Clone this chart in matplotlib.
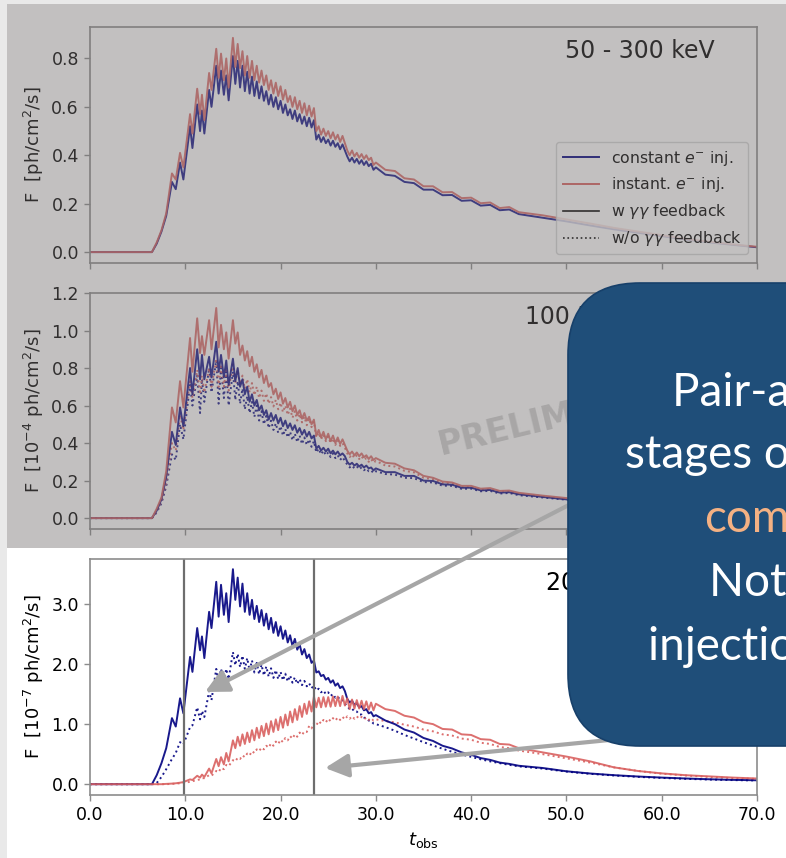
import numpy as np
import matplotlib.pyplot as plt
from matplotlib.patches import Rectangle, FancyBboxPatch
from matplotlib.lines import Line2D
from matplotlib.ticker import FormatStrFormatter, MultipleLocator

W, H = 786, 858
BLUE = 'navy'
RED = '#d9605f'

# observer time grid: rise with the first big teeth, sawtooth peak, decay, tail
t_rise = [0.0, 6.5, 7.0, 7.5, 8.0, 8.6, 9.0, 9.45, 9.8, 10.5, 10.75, 11.25,
          11.55, 11.75, 12.0, 12.5, 12.75, 13.25, 13.5, 13.75, 14.05, 14.3, 14.55, 15.0]
t_obs = np.concatenate([t_rise, np.arange(15.25, 30.01, 0.25),
                        np.arange(31, 46), np.arange(47.5, 70.01, 2.5)])

# 50 - 300 keV  [ph/cm^2/s]
top_constant = ([0, 0, 0.035, 0.085, 0.15, 0.29, 0.26, 0.37, 0.30, 0.52, 0.43, 0.61,
                 0.50, 0.585, 0.49, 0.67, 0.60, 0.77, 0.655, 0.75, 0.65, 0.73, 0.627, 0.81]
                + [0.695, 0.79, 0.68, 0.77, 0.665, 0.745, 0.655, 0.725, 0.645, 0.705, 0.635, 0.685, 0.625, 0.665, 0.61]
                + [0.65, 0.60, 0.64, 0.59, 0.625, 0.575, 0.61, 0.565, 0.59, 0.55, 0.585, 0.54, 0.57, 0.53, 0.56]
                + [0.52, 0.555, 0.515, 0.545, 0.465, 0.485, 0.455, 0.475, 0.45, 0.465, 0.44, 0.46, 0.435, 0.45, 0.425]
                + [0.445, 0.42, 0.395, 0.375, 0.39, 0.37, 0.385, 0.365, 0.38, 0.36, 0.375, 0.355, 0.365, 0.34, 0.35]
                + [0.32, 0.315, 0.29, 0.285, 0.258, 0.258, 0.235, 0.236, 0.212, 0.214, 0.192, 0.195, 0.173, 0.176, 0.157]
                + [0.142, 0.127, 0.11, 0.094, 0.08, 0.066, 0.052, 0.04, 0.03, 0.02])
top_instant = ([0, 0, 0.04, 0.09, 0.16, 0.325, 0.30, 0.41, 0.35, 0.57, 0.49, 0.675,
                0.57, 0.65, 0.545, 0.74, 0.67, 0.84, 0.72, 0.82, 0.71, 0.80, 0.68, 0.885]
               + [0.765, 0.86, 0.76, 0.83, 0.73, 0.81, 0.72, 0.79, 0.71, 0.77, 0.70, 0.75, 0.69, 0.73, 0.67]
               + [0.71, 0.655, 0.70, 0.645, 0.685, 0.63, 0.67, 0.62, 0.645, 0.60, 0.64, 0.59, 0.625, 0.575, 0.615]
               + [0.565, 0.605, 0.56, 0.595, 0.50, 0.52, 0.485, 0.51, 0.48, 0.50, 0.47, 0.495, 0.465, 0.485, 0.455]
               + [0.48, 0.45, 0.42, 0.40, 0.42, 0.395, 0.41, 0.39, 0.405, 0.385, 0.40, 0.38, 0.39, 0.36, 0.37]
               + [0.34, 0.335, 0.305, 0.30, 0.272, 0.272, 0.247, 0.248, 0.223, 0.225, 0.202, 0.205, 0.182, 0.186, 0.165]
               + [0.152, 0.135, 0.118, 0.10, 0.085, 0.07, 0.055, 0.043, 0.032, 0.022])

# 100 MeV band  [1e-4 ph/cm^2/s]
mid_constant = ([0, 0, 0.04, 0.10, 0.22, 0.46, 0.39, 0.59, 0.49, 0.80, 0.66, 0.90,
                 0.74, 0.87, 0.74, 0.86, 0.75, 0.94, 0.78, 0.87, 0.75, 0.84, 0.71, 0.85]
                + [0.73, 0.80, 0.70, 0.74, 0.66, 0.70, 0.62, 0.66, 0.60, 0.63, 0.575, 0.60, 0.55, 0.575, 0.525]
                + [0.56, 0.52, 0.55, 0.505, 0.535, 0.49, 0.52, 0.48, 0.505, 0.47, 0.495, 0.455, 0.48, 0.445, 0.47]
                + [0.435, 0.46, 0.425, 0.44, 0.37, 0.385, 0.36, 0.375, 0.355, 0.37, 0.345, 0.36, 0.34, 0.355, 0.335]
                + [0.345, 0.33, 0.30, 0.285, 0.295, 0.28, 0.29, 0.275, 0.285, 0.27, 0.28, 0.265, 0.27, 0.255, 0.265]
                + [0.245, 0.245, 0.225, 0.225, 0.20, 0.198, 0.18, 0.178, 0.162, 0.162, 0.148, 0.15, 0.136, 0.138, 0.127]
                + [0.113, 0.10, 0.089, 0.078, 0.068, 0.059, 0.051, 0.044, 0.037, 0.031])
mid_instant = ([0, 0, 0.05, 0.11, 0.25, 0.59, 0.51, 0.73, 0.59, 0.96, 0.78, 1.065,
                0.88, 0.97, 0.87, 1.055, 0.90, 1.12, 0.91, 1.03, 0.90, 0.99, 0.85, 1.055]
               + [0.93, 0.99, 0.87, 0.92, 0.84, 0.89, 0.81, 0.86, 0.78, 0.82, 0.75, 0.79, 0.72, 0.76, 0.70]
               + [0.72, 0.66, 0.69, 0.635, 0.67, 0.61, 0.64, 0.59, 0.62, 0.57, 0.60, 0.55, 0.575, 0.53, 0.56]
               + [0.52, 0.54, 0.50, 0.525, 0.44, 0.47, 0.43, 0.46, 0.42, 0.45, 0.41, 0.44, 0.40, 0.43, 0.395]
               + [0.42, 0.39, 0.36, 0.34, 0.355, 0.335, 0.35, 0.33, 0.345, 0.325, 0.335, 0.315, 0.33, 0.31, 0.32]
               + [0.295, 0.29, 0.265, 0.255, 0.225, 0.215, 0.195, 0.19, 0.172, 0.172, 0.157, 0.16, 0.145, 0.147, 0.135]
               + [0.12, 0.107, 0.095, 0.083, 0.072, 0.062, 0.053, 0.045, 0.038, 0.032])
mid_constant_nofb = ([0, 0, 0.03, 0.08, 0.17, 0.34, 0.31, 0.50, 0.42, 0.71, 0.60, 0.76,
                      0.56, 0.74, 0.62, 0.80, 0.67, 0.84, 0.61, 0.80, 0.64, 0.78, 0.60, 0.78]
                     + [0.63, 0.73, 0.61, 0.69, 0.58, 0.65, 0.56, 0.62, 0.54, 0.60, 0.52, 0.57, 0.50, 0.545, 0.48]
                     + [0.52, 0.47, 0.505, 0.455, 0.49, 0.44, 0.475, 0.43, 0.46, 0.415, 0.45, 0.405, 0.44, 0.395, 0.43]
                     + [0.39, 0.42, 0.38, 0.41, 0.35, 0.37, 0.34, 0.36, 0.335, 0.35, 0.325, 0.345, 0.32, 0.335, 0.31]
                     + [0.325, 0.305, 0.285, 0.27, 0.28, 0.265, 0.275, 0.26, 0.27, 0.255, 0.265, 0.25, 0.255, 0.24, 0.25]
                     + [0.235, 0.232, 0.215, 0.213, 0.192, 0.19, 0.173, 0.172, 0.156, 0.157, 0.143, 0.145, 0.131, 0.134, 0.122]
                     + [0.11, 0.098, 0.087, 0.076, 0.066, 0.058, 0.05, 0.043, 0.036, 0.03])
mid_instant_nofb = ([0, 0, 0.035, 0.09, 0.19, 0.40, 0.36, 0.55, 0.47, 0.74, 0.64, 0.79,
                     0.66, 0.76, 0.67, 0.80, 0.70, 0.85, 0.70, 0.82, 0.70, 0.80, 0.68, 0.82]
                    + [0.72, 0.79, 0.71, 0.76, 0.69, 0.74, 0.67, 0.72, 0.655, 0.70, 0.64, 0.68, 0.625, 0.665, 0.61]
                    + [0.645, 0.595, 0.63, 0.58, 0.615, 0.565, 0.60, 0.55, 0.585, 0.535, 0.57, 0.52, 0.555, 0.51, 0.54]
                    + [0.495, 0.53, 0.485, 0.515, 0.43, 0.455, 0.42, 0.445, 0.41, 0.435, 0.40, 0.425, 0.39, 0.415, 0.385]
                    + [0.40, 0.375, 0.345, 0.325, 0.34, 0.32, 0.335, 0.315, 0.33, 0.31, 0.32, 0.30, 0.315, 0.295, 0.305]
                    + [0.28, 0.275, 0.252, 0.244, 0.215, 0.207, 0.187, 0.183, 0.165, 0.166, 0.151, 0.154, 0.14, 0.142, 0.13]
                    + [0.116, 0.103, 0.092, 0.08, 0.07, 0.06, 0.052, 0.044, 0.037, 0.031])

# 20.. band  [1e-7 ph/cm^2/s]
bot_constant = ([0, 0, 0.15, 0.35, 0.60, 1.10, 0.96, 1.43, 1.18, 2.12, 1.87, 2.60,
                 2.23, 2.46, 2.10, 2.87, 2.60, 3.37, 2.79, 3.32, 2.82, 3.18, 2.70, 3.58]
                + [3.07, 3.44, 2.96, 3.34, 2.87, 3.18, 2.82, 3.07, 2.75, 2.97, 2.70, 2.90, 2.64, 2.84, 2.58]
                + [2.77, 2.52, 2.70, 2.47, 2.63, 2.42, 2.56, 2.36, 2.48, 2.30, 2.42, 2.24, 2.33, 2.16, 2.25]
                + [2.10, 2.16, 2.02, 2.06, 1.86, 1.88, 1.80, 1.82, 1.74, 1.77, 1.69, 1.73, 1.64, 1.68, 1.60]
                + [1.63, 1.55, 1.42, 1.36, 1.39, 1.32, 1.35, 1.28, 1.30, 1.23, 1.25, 1.18, 1.20, 1.13, 1.15]
                + [1.06, 1.0, 0.91, 0.86, 0.77, 0.72, 0.64, 0.595, 0.53, 0.49, 0.435, 0.405, 0.36, 0.338, 0.307]
                + [0.27, 0.215, 0.178, 0.15, 0.128, 0.11, 0.095, 0.082, 0.072, 0.065])
bot_instant = ([0, 0, 0.0, 0.0, 0.005, 0.01, 0.015, 0.025, 0.035, 0.08, 0.07, 0.14,
                0.11, 0.16, 0.12, 0.26, 0.18, 0.42, 0.30, 0.45, 0.33, 0.52, 0.38, 0.73]
               + [0.60, 0.79, 0.64, 0.83, 0.67, 0.86, 0.70, 0.90, 0.73, 0.94, 0.77, 0.97, 0.80, 1.01, 0.83]
               + [1.05, 0.87, 1.08, 0.90, 1.12, 0.94, 1.16, 0.98, 1.21, 1.03, 1.25, 1.07, 1.30, 1.12, 1.34]
               + [1.17, 1.38, 1.21, 1.46, 1.28, 1.44, 1.28, 1.45, 1.29, 1.45, 1.29, 1.46, 1.30, 1.46, 1.30]
               + [1.47, 1.31, 1.43, 1.25, 1.41, 1.26, 1.40, 1.26, 1.39, 1.25, 1.38, 1.24, 1.36, 1.23, 1.34]
               + [1.25, 1.22, 1.14, 1.11, 1.03, 1.0, 0.92, 0.91, 0.83, 0.82, 0.75, 0.74, 0.67, 0.66, 0.60]
               + [0.53, 0.46, 0.38, 0.28, 0.22, 0.18, 0.15, 0.13, 0.11, 0.095])
bot_constant_nofb = ([0, 0, 0.02, 0.12, 0.25, 0.42, 0.52, 0.70, 0.66, 0.95, 0.98, 1.28,
                      1.08, 1.22, 1.12, 1.55, 1.40, 1.92, 1.72, 1.92, 1.72, 1.92, 1.75, 2.20]
                     + [1.98, 2.17, 1.95, 2.14, 1.92, 2.10, 1.89, 2.06, 1.86, 2.02, 1.83, 1.99, 1.81, 1.96, 1.79]
                     + [1.93, 1.77, 1.90, 1.75, 1.87, 1.73, 1.84, 1.71, 1.81, 1.69, 1.78, 1.67, 1.75, 1.65, 1.72]
                     + [1.63, 1.68, 1.60, 1.64, 1.56, 1.59, 1.53, 1.56, 1.50, 1.53, 1.47, 1.50, 1.44, 1.46, 1.40]
                     + [1.40, 1.34, 1.30, 1.25, 1.26, 1.21, 1.21, 1.16, 1.16, 1.11, 1.10, 1.06, 1.05, 1.01, 1.00]
                     + [0.95, 0.89, 0.82, 0.76, 0.70, 0.645, 0.59, 0.54, 0.495, 0.455, 0.415, 0.38, 0.35, 0.322, 0.297]
                     + [0.26, 0.21, 0.172, 0.145, 0.122, 0.104, 0.089, 0.077, 0.068, 0.062])
bot_instant_nofb = ([0, 0, 0, 0, 0, 0.005, 0.01, 0.015, 0.02, 0.04, 0.05, 0.07,
                     0.08, 0.10, 0.10, 0.15, 0.14, 0.22, 0.20, 0.27, 0.25, 0.32, 0.30, 0.40]
                    + [0.38, 0.44, 0.42, 0.48, 0.45, 0.51, 0.48, 0.55, 0.52, 0.58, 0.55, 0.61, 0.58, 0.64, 0.61]
                    + [0.68, 0.64, 0.71, 0.67, 0.74, 0.70, 0.77, 0.73, 0.80, 0.76, 0.83, 0.79, 0.86, 0.82, 0.88]
                    + [0.87, 0.97, 0.93, 1.02, 0.98, 1.05, 1.01, 1.07, 1.03, 1.09, 1.05, 1.10, 1.06, 1.11, 1.07]
                    + [1.12, 1.08, 1.13, 1.09, 1.13, 1.09, 1.13, 1.09, 1.12, 1.08, 1.11, 1.07, 1.10, 1.06, 1.08]
                    + [1.05, 1.03, 0.99, 0.96, 0.91, 0.88, 0.83, 0.81, 0.76, 0.74, 0.69, 0.67, 0.62, 0.60, 0.56]
                    + [0.50, 0.43, 0.36, 0.28, 0.22, 0.175, 0.145, 0.12, 0.10, 0.088])

band_labels = ['50 - 300 keV', '100 MeV - 1 GeV', '20 GeV - 1 TeV']
y_labels = ['F  [ph/cm$^2$/s]', 'F  [10$^{-4}$ ph/cm$^2$/s]', 'F  [10$^{-7}$ ph/cm$^2$/s]']
y_limits = [(-0.045, 0.93), (-0.058, 1.2), (-0.18, 3.75)]
y_steps = [0.2, 0.2, 1.0]
t_marks = [9.85, 23.5]

fig = plt.figure(figsize=(W / 100, H / 100), dpi=100, facecolor='white')
axes = [fig.add_axes([90 / W, 1 - (y0 + 236) / H, 667 / W, 236 / H]) for y0 in (27, 293, 559)]

curves = [
    [(top_constant, BLUE, '-'), (top_instant, RED, '-')],
    [(mid_constant_nofb, BLUE, ':'), (mid_instant_nofb, RED, ':'),
     (mid_constant, BLUE, '-'), (mid_instant, RED, '-')],
    [(bot_constant_nofb, BLUE, ':'), (bot_instant_nofb, RED, ':'),
     (bot_constant, BLUE, '-'), (bot_instant, RED, '-')],
]
band_x = [565, 525, 546]

for i, ax in enumerate(axes):
    for vals, col, ls in curves[i]:
        ax.plot(t_obs, vals, color=col, ls=ls, lw=1.4, alpha=0.9)
    ax.set_xlim(0, 70)
    ax.set_ylim(*y_limits[i])
    ax.xaxis.set_major_locator(MultipleLocator(10))
    ax.yaxis.set_major_locator(MultipleLocator(y_steps[i]))
    ax.xaxis.set_major_formatter(FormatStrFormatter('%.1f'))
    ax.yaxis.set_major_formatter(FormatStrFormatter('%.1f'))
    for s in ax.spines.values():
        s.set_color('#8c8c8c')
        s.set_linewidth(1.2)
    ax.tick_params(colors='#8c8c8c', labelcolor='black', labelsize=12.5, length=4.5, width=1)
    ax.set_ylabel(y_labels[i], fontsize=13)
    ax.text((band_x[i] - 90) / 667, 0.87, band_labels[i], transform=ax.transAxes,
            fontsize=17, ha='left', va='baseline')
    if i < 2:
        ax.tick_params(labelbottom=False)

for tm in t_marks:
    axes[2].axvline(tm, color='#6e6e6e', lw=1.6)
axes[2].set_xlabel('$t_{\\rm obs}$', fontsize=13)

handles = [Line2D([], [], color=BLUE, lw=1.4), Line2D([], [], color=RED, lw=1.4),
           Line2D([], [], color='k', lw=1.2), Line2D([], [], color='k', lw=1.2, ls=':')]
axes[0].legend(handles, ['constant $e^{-}$ inj.', 'instant. $e^{-}$ inj.',
                         'w $\\gamma\\gamma$ feedback', 'w/o $\\gamma\\gamma$ feedback'],
               loc='lower right', fontsize=11.3, handlelength=2.3, borderaxespad=0.55)

# slide layer drawn in pixel coordinates on top of the panels
ov = fig.add_axes([0, 0, 1, 1], zorder=10)
ov.set_xlim(0, W)
ov.set_ylim(H, 0)
ov.axis('off')

ov.add_patch(Rectangle((0, 0), 7, H, color='#e9e9e9', lw=0, zorder=0.2))
ov.add_patch(Rectangle((0, 0), W, 4, color='#e9e9e9', lw=0, zorder=0.2))
ov.text(441, 455, 'PRELIMINARY', rotation=13.5, rotation_mode='anchor', ha='left',
        va='baseline', fontsize=24, fontweight='bold', color='#d2d2d2', zorder=0.5)
ov.add_patch(Rectangle((7, 4), W - 7, 544, color='#726e6e', alpha=0.43, lw=0, zorder=1))

arrow_kw = dict(arrowstyle='-|>,head_length=0.7,head_width=0.35', color='#a6a6a6',
                lw=3, mutation_scale=20, shrinkA=0, shrinkB=0)
ov.annotate('', xy=(205, 692), xytext=(600, 489), arrowprops=arrow_kw, zorder=2)
ov.annotate('', xy=(325, 768), xytext=(660, 735), arrowprops=arrow_kw, zorder=2)

ov.add_patch(FancyBboxPatch((568, 283), 320, 463, boxstyle='round,pad=0,rounding_size=72',
                            fc='#1f4e79', ec='#17406a', lw=1.2, zorder=3))
note_lines = [
    ('Pair-absorption shapes the early', 672, 406, 'white'),
    ('stages of the prompt phase', 625, 468, 'white'),
    ('comparable', 704, 532, '#f4b183'),
    ('Note the different', 709, 596, 'white'),
    ('injection histories', 648, 660, 'white'),
]
for txt, x, y, col in note_lines:
    ov.text(x, y, txt, fontsize=33, color=col, family='Lato', ha='left', va='baseline', zorder=4)

fig.savefig('out.png', dpi=100)
